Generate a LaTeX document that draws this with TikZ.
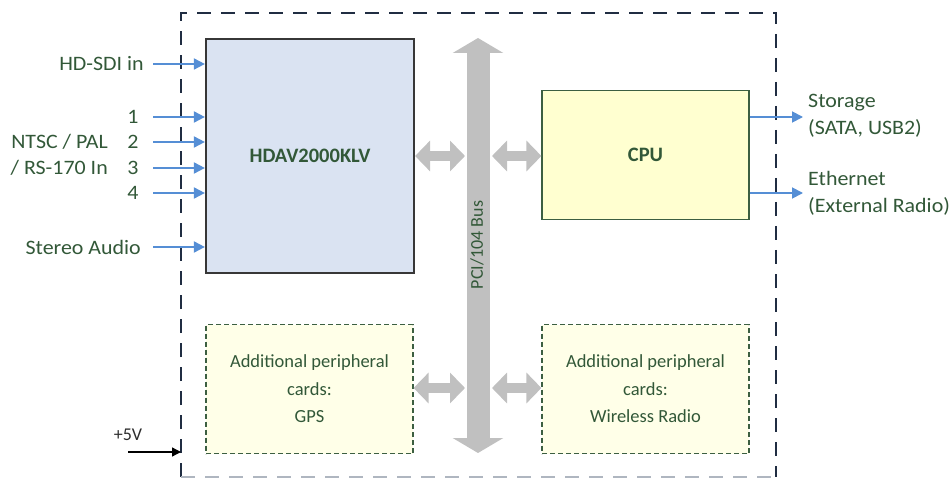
\documentclass[tikz,border=0pt]{standalone}
\usepackage{fontspec}
\setmainfont{Carlito}
\newfontfamily\widefont{Carlito}[FakeStretch=1.07]
\usetikzlibrary{arrows.meta}
\definecolor{txtgreen}{RGB}{50,88,56}
\definecolor{arrblue}{RGB}{85,142,213}
\definecolor{busgray}{RGB}{192,192,192}
\definecolor{hdavfill}{RGB}{218,227,242}
\definecolor{hdavdraw}{RGB}{55,55,55}
\definecolor{cpufill}{RGB}{255,255,208}
\definecolor{perfill}{RGB}{255,255,232}
\definecolor{boxgreen}{RGB}{60,95,65}
\definecolor{outerc}{RGB}{32,45,66}
\definecolor{outerlight}{RGB}{175,182,192}
\begin{document}
\begin{tikzpicture}[x=1pt,y=-1pt,
  lab/.style={text=txtgreen,font=\widefont\fontsize{20.5}{26.5}\selectfont,inner sep=0pt},
  inarrow/.style={draw=arrblue,line width=1.8pt,-{Triangle[length=11pt,width=11pt]}},
  dblarrow/.style={draw=busgray,line width=10pt,{Triangle[length=15pt,width=30pt]}-{Triangle[length=15pt,width=30pt]}},
  busarrow/.style={draw=busgray,line width=23pt,{Triangle[length=15pt,width=50pt]}-{Triangle[length=15pt,width=50pt]}},
  outerline/.style={draw=outerc,line width=2pt,dash pattern=on 14pt off 10pt},
  perbox/.style={draw=boxgreen,fill=perfill,line width=1.2pt,dash pattern=on 5pt off 3pt,
    minimum width=207pt,minimum height=129pt,inner sep=0pt,align=center,text=txtgreen,
    font=\fontsize{18.5}{27.5}\selectfont}]
\useasboundingbox (0,0) rectangle (950,478);
% outer dashed enclosure
\coordinate (oTL) at (181,13);
\coordinate (oTR) at (776,13);
\coordinate (oBL) at (181,477);
\coordinate (oBR) at (776,477);
\draw[outerline] (oBL) -- (oTL) -- (oTR) -- (oBR);
\draw[outerline,draw=outerlight] (oBL) -- (oBR);
% bus
\coordinate (bustop) at (478,38);
\coordinate (busbot) at (478,453);
\draw[busarrow] (bustop) -- (busbot);
\node[text=txtgreen,font=\fontsize{18}{20}\selectfont,rotate=90,inner sep=0pt] (buslab) at (477,245) {PCI/104 Bus};
% main boxes
\node[draw=hdavdraw,fill=hdavfill,line width=2.2pt,minimum width=208pt,minimum height=234pt,inner sep=0pt,
  text=txtgreen,font=\bfseries\fontsize{20.5}{24}\selectfont] (hdav) at (310,156) {HDAV2000KLV};
\node[draw=boxgreen,fill=cpufill,line width=1.2pt,minimum width=207pt,minimum height=129pt,inner sep=0pt,
  text=txtgreen,font=\bfseries\fontsize{20.5}{24}\selectfont] (cpu) at (645.5,155) {CPU};
\node[perbox] (gps) at (309.5,389) {Additional peripheral\\cards:\\GPS};
\node[perbox] (wifi) at (645.5,389) {Additional peripheral\\cards:\\Wireless Radio};
% bus connection arrows
\coordinate (busL1) at (465,156);
\coordinate (busR1) at (492,156);
\coordinate (busL2) at (465,388);
\coordinate (busR2) at (492,388);
\draw[dblarrow] (hdav.east |- busL1) -- (busL1);
\draw[dblarrow] (busR1) -- (cpu.west |- busR1);
\draw[dblarrow] (gps.east |- busL2) -- (busL2);
\draw[dblarrow] (busR2) -- (wifi.west |- busR2);
% inputs
\node[lab,anchor=east] (lhd) at (144,64) {HD-SDI in};
\node[lab] (l1) at (133,117) {1};
\node[lab] (l2) at (133,142) {2};
\node[lab] (l3) at (133,168) {3};
\node[lab] (l4) at (133,193) {4};
\node[lab,anchor=east] (lntsc) at (108,142) {NTSC / PAL};
\node[lab,anchor=east] (lrs) at (108,168) {/ RS-170 In};
\node[lab,anchor=east] (lst) at (141,247) {Stereo Audio};
\coordinate (shd) at (153,64);
\coordinate (s1) at (153,117);
\coordinate (s2) at (153,142);
\coordinate (s3) at (153,168);
\coordinate (s4) at (153,193);
\coordinate (sst) at (153,247);
\foreach \s in {shd,s1,s2,s3,s4,sst}{
  \draw[inarrow] (\s) -- (hdav.west |- \s);
}
% outputs
\coordinate (ostor) at (803,117);
\coordinate (oeth) at (803,193);
\draw[inarrow] (cpu.east |- ostor) -- (ostor);
\draw[inarrow] (cpu.east |- oeth) -- (oeth);
\node[lab,anchor=west,align=left] (lstor) at (808,116) {Storage\\(SATA, USB2)};
\node[lab,anchor=west,align=left] (leth) at (808,193.5) {Ethernet\\(External Radio)};
% power
\node[text={rgb,255:red,45;green,45;blue,45},font=\fontsize{18}{20}\selectfont,inner sep=0pt] (l5v) at (128,435) {+5V};
\coordinate (p5v) at (128,452);
\draw[black,line width=1.3pt,-{Triangle[length=9pt,width=9pt]}] (p5v) -- (oBL |- p5v);
\end{tikzpicture}
\end{document}
